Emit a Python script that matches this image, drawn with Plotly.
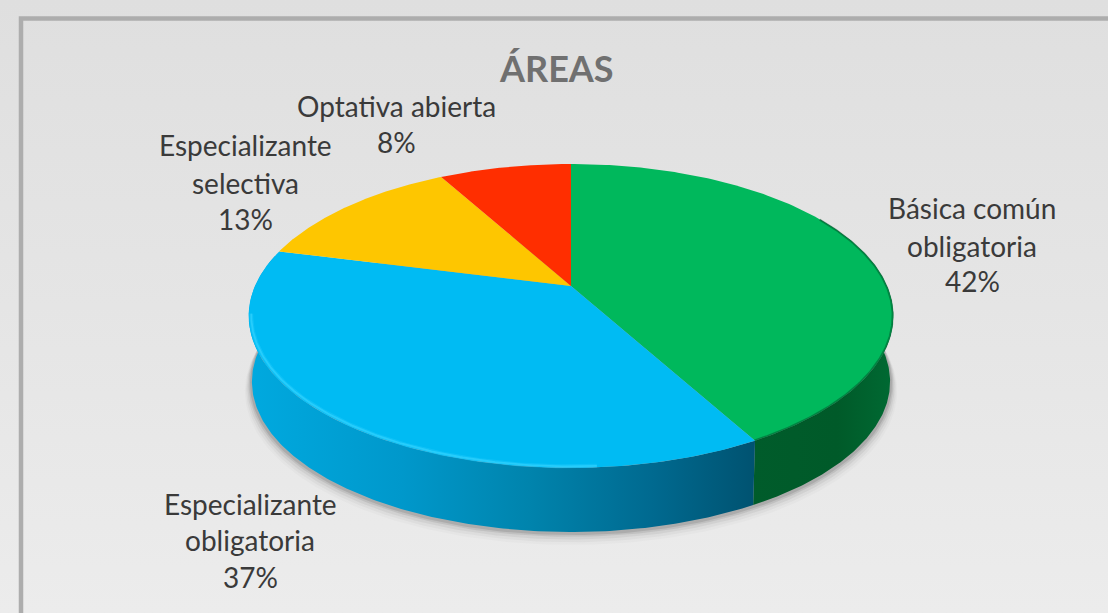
import numpy as np
import plotly.graph_objects as go

# Data
categories = ["Básica común obligatoria", "Especializante obligatoria", "Especializante selectiva", "Optativa abierta"]
label_lines = [["Básica común", "obligatoria"], ["Especializante", "obligatoria"], ["Especializante", "selectiva"], ["Optativa abierta"]]
values = [42, 37, 13, 8]
title_text = "ÁREAS"
top_colors = ["#00b85c", "#00bbf3", "#fec600", "#ff2e00"]

W, H = 1108, 613
# projection of the tilted disc
CX, CY, A, B, K = 571, 286, 316, 146, 0.197
DEPTH, BASE = 66, 0.99


def rim(phi_deg, scale=1.0, dy=0.0):
    p = np.radians(np.asarray(phi_deg, dtype=float))
    X, Y = np.sin(p), -np.cos(p)
    d = 1 - K * Y
    return CX + scale * A * X / d, CY + dy + scale * B * Y / d


def poly(x, y, color=None, gradient=None):
    kw = dict(x=list(x), y=list(y), mode="lines", fill="toself", line=dict(width=0),
              hoverinfo="skip", showlegend=False)
    if gradient is not None:
        kw["fillgradient"] = gradient
    else:
        kw["fillcolor"] = color
    return go.Scatter(**kw)


fig = go.Figure()

# background
fig.add_trace(poly([0, W, W, 0, 0], [0, 0, H, H, 0], gradient=dict(
    type="vertical", start=0, stop=H,
    colorscale=[[0, "#dfdfdf"], [0.5, "#e5e5e5"], [1, "#ececec"]])))

# soft shadow
ALL = np.linspace(0, 360, 361)
for s, dy, alpha in [(1.012, 75, 0.02), (1.008, 73, 0.03), (1.004, 71, 0.05), (1.0, 69, 0.08), (0.996, 68, 0.10)]:
    sx, sy = rim(ALL, s, dy)
    fig.add_trace(poly(sx, sy, f"rgba(0,0,0,{alpha})"))

# slice boundaries (clockwise from the top)
edges = np.concatenate([[0], np.cumsum(values)]) / sum(values) * 360

# side walls
def wall(p0, p1):
    ph = np.linspace(p0, p1, 200)
    x1, y1 = rim(ph)
    x2, y2 = rim(ph[::-1], BASE, DEPTH)
    return np.r_[x1, x2, x1[0]], np.r_[y1, y2, y1[0]]

wx, wy = wall(60, edges[1])
fig.add_trace(poly(wx, wy, gradient=dict(
    type="horizontal", start=750, stop=895,
    colorscale=[[0, "#005c2b"], [0.6, "#005a29"], [1, "#006a33"]])))
wx, wy = wall(edges[1], edges[2] - 2)
fig.add_trace(poly(wx, wy, gradient=dict(
    type="horizontal", start=250, stop=756,
    colorscale=[[0, "#00a9df"], [0.3, "#0098cb"], [0.55, "#0084ad"], [0.8, "#00698f"], [1, "#005270"]])))

# top faces
for i, c in enumerate(top_colors):
    ph = np.linspace(edges[i], edges[i + 1], 200)
    x, y = rim(ph)
    fig.add_trace(poly(np.r_[CX, x, CX], np.r_[CY, y, CY], c))

# bevels
for s, width, col in [(0.992, 4, "rgba(40,205,255,0.35)"), (0.992, 1.8, "rgba(60,215,255,0.55)")]:
    bx, by = rim(np.linspace(edges[1] + 25, edges[2] - 25, 200), s)
    fig.add_trace(go.Scatter(x=bx, y=by, mode="lines", line=dict(color=col, width=width),
                             hoverinfo="skip", showlegend=False))
bx, by = rim(np.linspace(60, edges[1], 200), 0.998)
fig.add_trace(go.Scatter(x=bx, y=by, mode="lines", line=dict(color="rgba(0,70,35,0.45)", width=2),
                         hoverinfo="skip", showlegend=False))

# frame
fig.add_shape(type="path", path=f"M 21 {H} L 21 18.5 L {W} 18.5", layer="above",
              line=dict(color="#adadad", width=4.5))

# text
FONT = "Lato, Carlito, Calibri, sans-serif"
fig.add_annotation(x=556, y=68, text=title_text, showarrow=False,
                   font=dict(family=FONT, size=36, color="#707070", weight="bold"))

centers = [972, 250, 245, 396]
line_y = [[208, 246, 281], [504, 540, 577], [145, 183, 219], [106, 142]]
for lines, v, cx, ys in zip(label_lines, values, centers, line_y):
    for t, yy in zip(lines + [f"{v}%"], ys):
        fig.add_annotation(x=cx, y=yy, text=t, showarrow=False,
                           font=dict(family=FONT, size=28, color="#3a3a3a"))

fig.update_layout(
    width=W, height=H, margin=dict(l=0, r=0, t=0, b=0),
    paper_bgcolor="#e5e5e5", plot_bgcolor="#e5e5e5", showlegend=False,
    xaxis=dict(range=[0, W], visible=False, fixedrange=True),
    yaxis=dict(range=[H, 0], visible=False, fixedrange=True),
)
fig.write_html("out.html", config=dict(displayModeBar=False),
               post_script="document.body.style.margin='0';document.documentElement.style.overflow='hidden';")
